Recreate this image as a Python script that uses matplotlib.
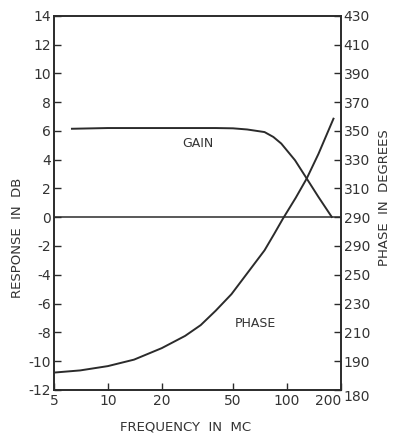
import numpy as np
import matplotlib
matplotlib.use("Agg")
import matplotlib.pyplot as plt

# values
gain_freq = [6.3, 10, 20, 40, 50, 60, 75, 84, 93, 111, 129, 150, 178]
gain_db = [6.15, 6.2, 6.2, 6.2, 6.18, 6.1, 5.92, 5.58, 5.12, 3.96, 2.69, 1.41, 0.02]

phase_freq = [5, 7, 10, 14, 20, 27, 33, 40, 49, 63, 75, 85, 95, 112, 129, 150, 182]
phase_db = [-10.8, -10.65, -10.35, -9.9, -9.1, -8.25, -7.5, -6.5, -5.35, -3.55, -2.3, -1.15, -0.1, 1.35, 2.69, 4.4, 6.85]

x_ticks = [5, 10, 20, 50, 100, 200]
left_ticks = [14, 12, 10, 8, 6, 4, 2, 0, -2, -4, -6, -8, -10, -12]
right_labels = ["430", "410", "390", "370", "350", "330", "310", "290",
                "290", "250", "230", "210", "190", "180"]

ink = "#2b2b2b"
txt = "#333333"
plt.rcParams['font.family'] = ['DejaVu Sans']

fig = plt.figure(figsize=(3.94, 4.40), dpi=100)
ax = fig.add_axes([0.137, 0.114, 0.728, 0.85])

ax.plot(gain_freq, gain_db, color=ink, lw=1.4)
ax.plot(phase_freq, phase_db, color=ink, lw=1.4)
ax.axhline(0, color=ink, lw=1.1)

ax.set_xscale("log")
ax.set_xlim(5, 200)
ax.set_ylim(-12, 14)
ax.set_xticks(x_ticks)
ax.set_xticklabels([str(v) for v in x_ticks])
ax.xaxis.set_minor_locator(matplotlib.ticker.NullLocator())
ax.set_yticks(left_ticks)
ax.set_yticklabels([str(v) for v in left_ticks])

ax.tick_params(direction="in", length=5, width=1, color=ink, labelcolor=txt, labelsize=10, pad=3)
ax.tick_params(axis="y", pad=2)
ax.get_xticklabels()[-1].set_horizontalalignment("right")

ax2 = ax.twinx()
ax2.set_ylim(-12, 14)
ax2.set_yticks(left_ticks)
ax2.set_yticklabels(right_labels)
ax2.tick_params(direction="in", length=5, width=1, color=ink, labelcolor=txt, labelsize=10, pad=2)
ax2.get_yticklabels()[-1].set_verticalalignment("top")

for a in (ax, ax2):
    for s in a.spines.values():
        s.set_color(ink)
        s.set_linewidth(1.2)

ax.text(32, 5.1, "GAIN", fontsize=9, color=txt, ha="center", va="center")
ax.text(67, -7.4, "PHASE", fontsize=9, color=txt, ha="center", va="center")

fig.text(0.47, 0.03, "FREQUENCY  IN  MC", fontsize=9.5, color=txt, ha="center", va="center")
fig.text(0.045, 0.46, "RESPONSE  IN  DB", fontsize=9.5, color=txt, ha="center", va="center", rotation=90)
fig.text(0.975, 0.55, "PHASE  IN  DEGREES", fontsize=9.5, color=txt, ha="center", va="center", rotation=90)

fig.savefig("out.png", dpi=100)
